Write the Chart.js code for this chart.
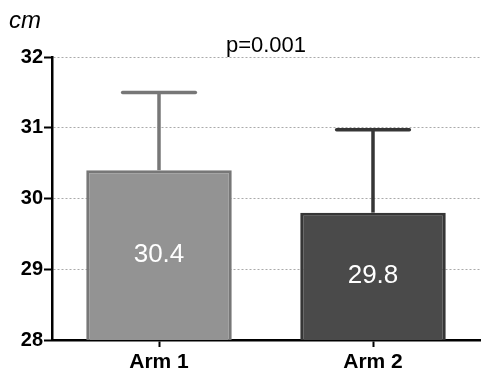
<!DOCTYPE html>
<html>
<head>
<meta charset="utf-8">
<script src="https://cdn.jsdelivr.net/npm/chart.js@4/dist/chart.umd.min.js"></script>
<style>
  html, body { margin: 0; padding: 0; background: #fff; }
  #wrap { width: 482px; height: 370px; position: relative; }
</style>
</head>
<body>
<div id="wrap"><canvas id="c"></canvas></div>
<script>
// Group labels, group means and upper SD whiskers (cm)
const categories = ['Arm 1', 'Arm 2'];
const means = [30.4, 29.8];
const sdUpper = [1.1, 1.17];
const yTicks = [28, 29, 30, 31, 32];
const pValueText = 'p=0.001';
const unitText = 'cm';

const FONT = '"Liberation Sans", Arial, Helvetica, sans-serif';
const fills = ['#939393', '#4a4a4a'];
const edges = ['#777777', '#363636'];

// Upper-only error bars with a cap, drawn from each bar's top
const errorBars = {
  id: 'errorBars',
  afterDatasetsDraw(chart) {
    const { ctx, scales: { y } } = chart;
    const meta = chart.getDatasetMeta(0);
    meta.data.forEach((bar, i) => {
      const x = bar.x;
      const from = y.getPixelForValue(means[i]);
      const top = y.getPixelForValue(means[i] + sdUpper[i]);
      const half = bar.width / 4;
      ctx.save();
      ctx.strokeStyle = edges[i];
      ctx.lineWidth = 3.5;
      ctx.lineCap = 'butt';
      ctx.beginPath();
      ctx.moveTo(x, from);
      ctx.lineTo(x, top);
      ctx.stroke();
      ctx.lineCap = 'round';
      ctx.beginPath();
      ctx.moveTo(x - half, top);
      ctx.lineTo(x + half, top);
      ctx.stroke();
      ctx.restore();
    });
  }
};

// Mean value printed inside each bar
const valueLabels = {
  id: 'valueLabels',
  afterDraw(chart) {
    const { ctx, scales: { y } } = chart;
    const meta = chart.getDatasetMeta(0);
    meta.data.forEach((bar, i) => {
      const topPx = y.getPixelForValue(means[i]);
      const basePx = y.getPixelForValue(y.min);
      ctx.save();
      ctx.fillStyle = '#ffffff';
      ctx.font = '26px ' + FONT;
      ctx.textAlign = 'center';
      ctx.textBaseline = 'middle';
      ctx.fillText(means[i].toFixed(1), bar.x, (topPx + basePx) / 2);
      ctx.restore();
    });
  }
};

// Unit label and p-value text
const annotations = {
  id: 'annotations',
  afterDraw(chart) {
    const { ctx, chartArea } = chart;
    ctx.save();
    ctx.fillStyle = '#000';
    ctx.textBaseline = 'alphabetic';
    ctx.textAlign = 'left';
    ctx.font = 'italic 24px ' + FONT;
    ctx.fillText(unitText, 9, 28);
    ctx.textAlign = 'center';
    ctx.font = '22px ' + FONT;
    ctx.fillText(pValueText, (chartArea.left + chartArea.right) / 2, 52);
    ctx.restore();
  }
};

new Chart(document.getElementById('c'), {
  type: 'bar',
  data: {
    labels: categories,
    datasets: [{
      data: means,
      backgroundColor: fills,
      borderColor: edges,
      borderWidth: 3,
      barPercentage: 0.68,
      categoryPercentage: 1.0
    }]
  },
  options: {
    responsive: true,
    maintainAspectRatio: false,
    animation: false,
    devicePixelRatio: 1,
    layout: { padding: { top: 57, right: 2, left: 0, bottom: 0 } },
    plugins: {
      legend: { display: false },
      tooltip: { enabled: false },
      title: { display: false }
    },
    scales: {
      x: {
        offset: true,
        grid: {
          offset: false,
          drawOnChartArea: false,
          drawTicks: true,
          tickLength: 7,
          tickWidth: 2,
          tickColor: '#000'
        },
        border: { color: '#000', width: 2.5 },
        ticks: {
          color: '#000',
          padding: 3,
          maxRotation: 0,
          font: { family: FONT, size: 21, weight: 'bold' }
        },
        afterFit: s => { s.height = 30; }
      },
      y: {
        min: 28,
        max: 32,
        afterBuildTicks: s => { s.ticks = yTicks.map(v => ({ value: v })); },
        grid: {
          color: '#aaaaaa',
          lineWidth: 1,
          tickLength: 8,
          tickWidth: 2,
          tickColor: '#000'
        },
        border: { color: '#000', width: 2.5, dash: [2, 2] },
        ticks: {
          color: '#000',
          padding: 1,
          font: { family: FONT, size: 20, weight: 'bold' }
        },
        afterFit: s => { s.width = 52; }
      }
    }
  },
  plugins: [errorBars, valueLabels, annotations]
});
</script>
</body>
</html>
